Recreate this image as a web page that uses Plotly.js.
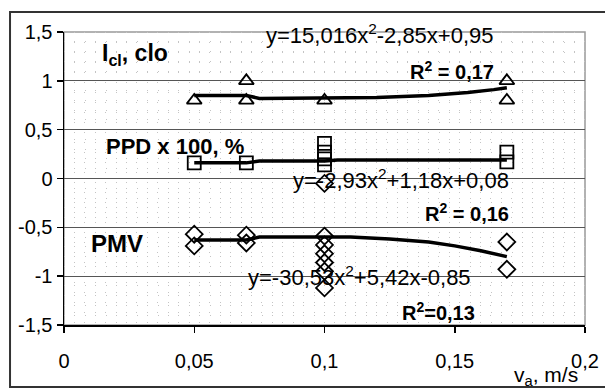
<!DOCTYPE html>
<html>
<head>
<meta charset="utf-8">
<script src="https://cdn.plot.ly/plotly-3.0.1.min.js"></script>
<style>html,body{margin:0;padding:0;background:#fff;}#chart{width:605px;height:389px;}</style>
</head>
<body>
<div id="chart"></div>
<script>
// measured points
const icl_x = [0.05, 0.07, 0.07, 0.10, 0.17, 0.17];
const icl_y = [0.80, 1.00, 0.80, 0.80, 1.00, 0.80];
const ppd_x = [0.05, 0.07, 0.10, 0.10, 0.10, 0.10, 0.17, 0.17];
const ppd_y = [0.16, 0.16, 0.36, 0.27, 0.20, 0.14, 0.27, 0.17];
const pmv_x = [0.05, 0.05, 0.07, 0.07, 0.10, 0.10, 0.10, 0.10, 0.10, 0.10, 0.10, 0.17, 0.17];
const pmv_y = [-0.57, -0.69, -0.58, -0.66, -0.05, -0.59, -0.68, -0.77, -0.86, -0.95, -1.12, -0.65, -0.93];
// trend lines as drawn
const icl_tx = [0.05, 0.07, 0.075, 0.12, 0.14, 0.155, 0.165, 0.17];
const icl_ty = [0.85, 0.85, 0.82, 0.83, 0.85, 0.88, 0.91, 0.93];
const ppd_tx = [0.05, 0.07, 0.075, 0.10, 0.105, 0.17];
const ppd_ty = [0.16, 0.16, 0.18, 0.18, 0.19, 0.19];
const pmv_tx = [0.05, 0.07, 0.075, 0.11, 0.125, 0.14, 0.15, 0.16, 0.17];
const pmv_ty = [-0.63, -0.63, -0.60, -0.60, -0.62, -0.65, -0.69, -0.74, -0.80];
// ticks
const xTickVals = [0, 0.05, 0.1, 0.15, 0.2];
const xTickText = ["0", "0,05", "0,1", "0,15", "0,2"];
const yTickVals = [1.5, 1, 0.5, 0, -0.5, -1, -1.5];
const yTickText = ["1,5", "1", "0,5", "0", "-0,5", "-1", "-1,5"];
// labels
const labels = [
  {text: "y=15,016x<sup>2</sup>-2,85x+0,95", x: 0.1213, y: 1.48, size: 22},
  {text: "<b>R<sup>2</sup> = 0,17</b>", x: 0.149, y: 1.11, size: 20},
  {text: "<b>I<sub>cl</sub>, clo</b>", x: 0.0273, y: 1.27, size: 23},
  {text: "<b>PPD x 100, %</b>", x: 0.0426, y: 0.33, size: 22},
  {text: "y=-2,93x<sup>2</sup>+1,18x+0,08", x: 0.1294, y: -0.01, size: 22},
  {text: "<b>R<sup>2</sup> = 0,16</b>", x: 0.1547, y: -0.35, size: 20},
  {text: "<b>PMV</b>", x: 0.0204, y: -0.67, size: 24},
  {text: "y=-30,53x<sup>2</sup>+5,42x-0,85", x: 0.1136, y: -1.0, size: 22},
  {text: "<b>R<sup>2</sup>=0,13</b>", x: 0.1436, y: -1.36, size: 20}
];

const FONT = "Liberation Sans, Arial, sans-serif";
const lineStyle = {color: "#000", width: 3.5};
const mk = (sym) => ({symbol: sym, size: 13, color: "#000", line: {color: "#000", width: 1.8}});

const traces = [
  {x: icl_tx, y: icl_ty, mode: "lines", line: lineStyle, hoverinfo: "skip"},
  {x: ppd_tx, y: ppd_ty, mode: "lines", line: lineStyle, hoverinfo: "skip"},
  {x: pmv_tx, y: pmv_ty, mode: "lines", line: lineStyle, hoverinfo: "skip"},
  {x: icl_x, y: icl_y, mode: "markers", marker: mk("triangle-up-open")},
  {x: ppd_x, y: ppd_y, mode: "markers", marker: mk("square-open")},
  {x: pmv_x, y: pmv_y, mode: "markers", marker: mk("diamond-open")}
];

const annotations = labels.map(l => ({
  text: l.text, x: l.x, y: l.y, xref: "x", yref: "y", showarrow: false,
  font: {family: FONT, size: l.size, color: "#000"}
}));
annotations.push({
  text: "v<sub>a</sub>, m/s", xref: "x", yref: "paper", x: 0.185, y: -0.225,
  yanchor: "bottom", showarrow: false, font: {family: FONT, size: 21, color: "#000"}
});

const layout = {
  width: 605, height: 389,
  margin: {l: 64, r: 20, t: 32, b: 64},
  paper_bgcolor: "#fff", plot_bgcolor: "#fff",
  showlegend: false,
  font: {family: FONT, size: 20, color: "#000"},
  xaxis: {
    range: [0, 0.2], tickvals: xTickVals, ticktext: xTickText,
    showgrid: false, zeroline: false,
    showline: true, linecolor: "#000", linewidth: 1.5,
    ticks: "outside", ticklen: 6, tickcolor: "#000", tickwidth: 1.5,
    ticklabelstandoff: 11,
    tickfont: {family: FONT, size: 20, color: "#000"},
    minor: {dtick: 0.004, showgrid: true, gridcolor: "#c4c4c4", griddash: "1px,9px", gridwidth: 1}
  },
  yaxis: {
    range: [-1.5, 1.5], tickvals: yTickVals, ticktext: yTickText,
    showgrid: true, gridcolor: "#555", gridwidth: 1, zeroline: false,
    showline: true, linecolor: "#000", linewidth: 1.5,
    ticks: "outside", ticklen: 6, tickcolor: "#000", tickwidth: 1.5,
    tickfont: {family: FONT, size: 20, color: "#000"},
    minor: {dtick: 0.1, showgrid: true, gridcolor: "#c4c4c4", griddash: "1px,9.4px", gridwidth: 1}
  },
  shapes: [
    {type: "rect", xref: "paper", yref: "paper", x0: 0, x1: 1, y0: 0, y1: 1,
     line: {color: "#999", width: 1.5}, layer: "below"},
    {type: "rect", xref: "paper", yref: "paper", x0: -0.1036, x1: 1.045, y0: -0.2116, y1: 1.068,
     line: {color: "#333", width: 2}, layer: "above"}
  ],
  annotations: annotations
};

Plotly.newPlot("chart", traces, layout, {displayModeBar: false, staticPlot: true});
</script>
</body>
</html>
